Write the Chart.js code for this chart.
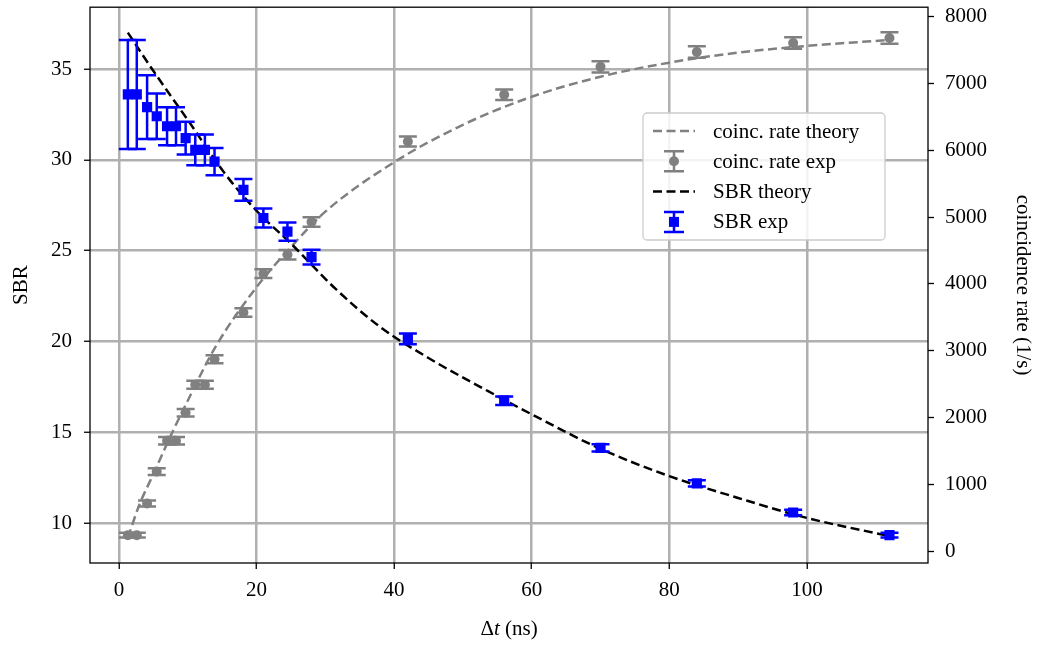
<!DOCTYPE html>
<html>
<head>
<meta charset="utf-8">
<script src="https://cdn.jsdelivr.net/npm/chart.js@4.4.0/dist/chart.umd.min.js"></script>
<style>
html, body { margin: 0; padding: 0; background: #fff; }
#wrap { width: 1039px; height: 648px; }
</style>
</head>
<body>
<div id="wrap"><canvas id="myChart"></canvas></div>
<script>
// measured points (delay in ns)
const dt = [1.3, 2.6, 4.1, 5.5, 7.0, 8.3, 9.7, 11.1, 12.5, 13.9, 18.1, 21, 24.5, 28, 42, 56, 70, 84, 98, 112];
const sbrExp = [33.6, 33.6, 32.9, 32.4, 31.85, 31.85, 31.2, 30.55, 30.55, 29.9, 28.35, 26.8, 26.05, 24.65, 20.15, 16.75, 14.15, 12.2, 10.6, 9.35];
const sbrErr = [3.0, 3.0, 1.75, 1.25, 1.05, 1.05, 0.9, 0.85, 0.85, 0.75, 0.6, 0.52, 0.5, 0.4, 0.3, 0.23, 0.2, 0.17, 0.15, 0.13];
const rateExp = [238, 238, 714, 1190, 1652, 1652, 2070, 2490, 2490, 2872, 3571, 4152, 4435, 4926, 6131, 6830, 7247, 7470, 7604, 7679];
const rateErr = [35, 35, 45, 50, 55, 55, 55, 60, 60, 60, 65, 65, 70, 70, 75, 80, 85, 85, 85, 85];

// theory curves
const sbrTheoryDt = [1.3, 5, 10, 15.5, 20, 25, 31.5, 38, 45, 56, 60, 70, 80, 90, 100, 112];
const sbrTheory = [37.0, 34.9, 32.2, 29.2, 27.2, 25.4, 22.9, 20.8, 19.1, 16.8, 16.0, 14.1, 12.6, 11.4, 10.3, 9.3];
const rateTheoryDt = [1.3, 3, 5, 7.5, 10, 14, 20, 25, 30, 40, 50, 60, 70, 80, 90, 100, 112];
const rateTheory = [200, 700, 1150, 1720, 2250, 3050, 3950, 4550, 5080, 5820, 6380, 6800, 7100, 7310, 7460, 7560, 7650];

const xTicks = [0, 20, 40, 60, 80, 100];
const sbrTicks = [10, 15, 20, 25, 30, 35];
const rateTicks = [0, 1000, 2000, 3000, 4000, 5000, 6000, 7000, 8000];

const FONT = "'Liberation Serif', 'DejaVu Serif', serif";
const GRAY = '#808080';
const BLUE = '#0000ff';

function pts(xs, ys) {
    return xs.map((x, i) => ({ x: x, y: ys[i] }));
}

const errorBars = {
    id: 'errorBars',
    beforeDatasetDraw(chart, args) {
        const ds = chart.data.datasets[args.index];
        if (!ds.errors) return;
        const xs = chart.scales.x;
        const ys = chart.scales[ds.yAxisID];
        const ctx = chart.ctx;
        const cap = ds.capSize;
        ctx.save();
        ctx.strokeStyle = ds.borderColor;
        ctx.lineWidth = 2.5;
        ds.data.forEach((p, i) => {
            const px = xs.getPixelForValue(p.x);
            const top = ys.getPixelForValue(p.y + ds.errors[i]);
            const bot = ys.getPixelForValue(p.y - ds.errors[i]);
            ctx.beginPath();
            ctx.moveTo(px, top); ctx.lineTo(px, bot);
            ctx.moveTo(px - cap, top); ctx.lineTo(px + cap, top);
            ctx.moveTo(px - cap, bot); ctx.lineTo(px + cap, bot);
            ctx.stroke();
        });
        ctx.restore();
    }
};

const frameAndLabels = {
    id: 'frameAndLabels',
    afterDraw(chart) {
        const ctx = chart.ctx;
        const a = chart.chartArea;
        ctx.save();
        ctx.strokeStyle = '#000';
        ctx.lineWidth = 1.3;
        ctx.strokeRect(a.left, a.top, a.right - a.left, a.bottom - a.top);

        // x axis title: Δt (ns), t in italics
        const parts = [['Δ', '21px ' + FONT], ['t', 'italic 21px ' + FONT], [' (ns)', '21px ' + FONT]];
        let w = 0;
        parts.forEach(p => { ctx.font = p[1]; w += ctx.measureText(p[0]).width; });
        let x = (a.left + a.right) / 2 - w / 2;
        ctx.fillStyle = '#000';
        ctx.textBaseline = 'middle';
        ctx.textAlign = 'left';
        parts.forEach(p => { ctx.font = p[1]; ctx.fillText(p[0], x, 629); x += ctx.measureText(p[0]).width; });

        // legend
        const lx = 643, ly = 113, lw = 242, lh = 127;
        ctx.beginPath();
        ctx.roundRect(lx, ly, lw, lh, 4);
        ctx.fillStyle = 'rgba(255,255,255,0.85)';
        ctx.fill();
        ctx.strokeStyle = '#cccccc';
        ctx.lineWidth = 1.3;
        ctx.stroke();
        const sets = chart.data.datasets;
        [0, 1, 2, 3].forEach((k, row) => {
            const ds = sets[k];
            const cy = 131 + row * 30.3;
            const cx = 674;
            ctx.save();
            ctx.strokeStyle = ds.borderColor;
            ctx.lineWidth = 2.5;
            if (ds.errors) {
                ctx.beginPath();
                ctx.moveTo(cx, cy - 10); ctx.lineTo(cx, cy + 10);
                ctx.moveTo(cx - 10, cy - 10); ctx.lineTo(cx + 10, cy - 10);
                ctx.moveTo(cx - 10, cy + 10); ctx.lineTo(cx + 10, cy + 10);
                ctx.stroke();
                ctx.fillStyle = ds.backgroundColor;
                if (ds.pointStyle === 'rect') {
                    ctx.fillRect(cx - 5, cy - 5, 10, 10);
                } else {
                    ctx.beginPath(); ctx.arc(cx, cy, 5, 0, Math.PI * 2); ctx.fill();
                }
            } else {
                ctx.setLineDash([9, 4.5]);
                ctx.beginPath(); ctx.moveTo(653, cy); ctx.lineTo(695, cy); ctx.stroke();
            }
            ctx.restore();
            ctx.fillStyle = '#000';
            ctx.font = '21px ' + FONT;
            ctx.textAlign = 'left';
            ctx.textBaseline = 'middle';
            ctx.fillText(ds.label, 713, cy + 1);
        });
        ctx.restore();
    }
};

function fixedWidth(w) {
    return function (scale) {
        scale.width = w;
        scale.paddingTop = 0; scale.paddingBottom = 0;
    };
}

const tickFont = { family: FONT, size: 21 };

const ctx = document.getElementById('myChart');
new Chart(ctx, {
    type: 'scatter',
    data: {
        datasets: [{
            label: 'coinc. rate theory',
            type: 'line',
            data: pts(rateTheoryDt, rateTheory),
            yAxisID: 'y1',
            borderColor: GRAY,
            borderWidth: 2.5,
            borderDash: [9, 4.5],
            pointRadius: 0,
            fill: false,
            cubicInterpolationMode: 'monotone',
            order: 4
        }, {
            label: 'coinc. rate exp',
            data: pts(dt, rateExp),
            errors: rateErr,
            capSize: 9,
            yAxisID: 'y1',
            borderColor: GRAY,
            backgroundColor: GRAY,
            pointStyle: 'circle',
            pointRadius: 5,
            pointBorderWidth: 0,
            order: 3
        }, {
            label: 'SBR theory',
            type: 'line',
            data: pts(sbrTheoryDt, sbrTheory),
            yAxisID: 'y',
            borderColor: '#000',
            borderWidth: 2.5,
            borderDash: [9, 4.5],
            pointRadius: 0,
            fill: false,
            cubicInterpolationMode: 'monotone',
            order: 2
        }, {
            label: 'SBR exp',
            data: pts(dt, sbrExp),
            errors: sbrErr,
            capSize: 9,
            yAxisID: 'y',
            borderColor: BLUE,
            backgroundColor: BLUE,
            pointStyle: 'rect',
            pointRadius: 7.2,
            pointBorderWidth: 0,
            order: 1
        }]
    },
    options: {
        responsive: true,
        maintainAspectRatio: false,
        animation: false,
        layout: { padding: { top: 5, left: 0, right: 0, bottom: 0 } },
        plugins: { legend: { display: false }, tooltip: { enabled: false } },
        scales: {
            x: {
                type: 'linear',
                min: -4.2,
                max: 117.6,
                afterBuildTicks: s => { s.ticks = xTicks.map(v => ({ value: v })); },
                afterFit: s => { s.height = 85; s.paddingLeft = 0; s.paddingRight = 0; },
                ticks: { font: tickFont, color: '#000', padding: 9, maxRotation: 0, callback: v => String(v) },
                grid: { color: '#b0b0b0', lineWidth: 2.5, tickColor: '#000', tickLength: 6, tickWidth: 1.3 },
                border: { display: false }
            },
            y: {
                type: 'linear',
                position: 'left',
                min: 7.82,
                max: 38.4,
                afterBuildTicks: s => { s.ticks = sbrTicks.map(v => ({ value: v })); },
                afterFit: fixedWidth(90),
                ticks: { font: tickFont, color: '#000', padding: 12, callback: v => String(v) },
                grid: { color: '#b0b0b0', lineWidth: 2.5, tickColor: '#000', tickLength: 6, tickWidth: 1.3 },
                border: { display: false },
                title: { display: true, text: 'SBR', font: tickFont, color: '#000', padding: 9 }
            },
            y1: {
                type: 'linear',
                position: 'right',
                min: -178,
                max: 8140,
                afterBuildTicks: s => { s.ticks = rateTicks.map(v => ({ value: v })); },
                afterFit: fixedWidth(111),
                ticks: { font: tickFont, color: '#000', padding: 11, callback: v => String(v) },
                grid: { drawOnChartArea: false, tickColor: '#000', tickLength: 6, tickWidth: 1.3 },
                border: { display: false },
                title: { display: true, text: 'coincidence rate (1/s)', font: tickFont, color: '#000', padding: 4 }
            }
        }
    },
    plugins: [errorBars, frameAndLabels]
});
</script>
</body>
</html>
